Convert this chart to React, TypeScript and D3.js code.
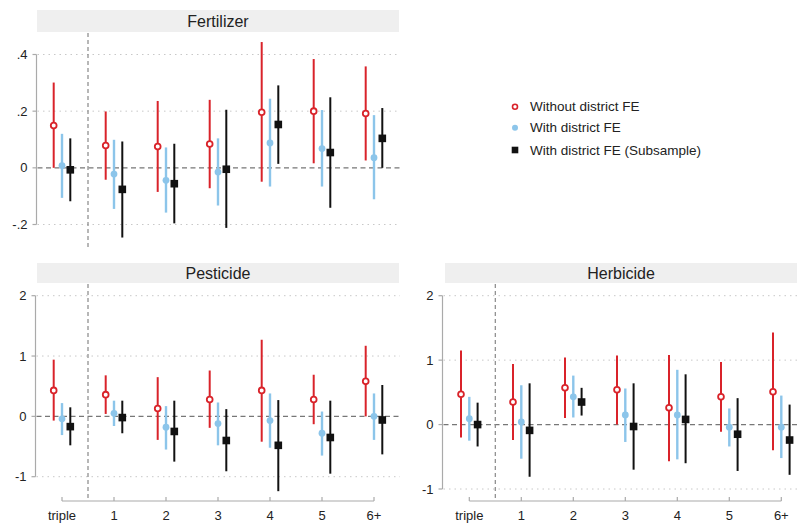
import React from "react";
import * as d3 from "d3";

const categories = ["triple", "1", "2", "3", "4", "5", "6+"];
const seriesNames = ["Without district FE", "With district FE", "With district FE (Subsample)"];

// [estimate, lower, upper] per category
const fertRed = [[0.149, 0.0, 0.301], [0.079, -0.042, 0.199], [0.075, -0.085, 0.236], [0.084, -0.072, 0.24], [0.196, -0.049, 0.444], [0.2, 0.016, 0.384], [0.192, 0.026, 0.358]];
const fertBlue = [[0.008, -0.106, 0.12], [-0.022, -0.145, 0.099], [-0.044, -0.158, 0.072], [-0.015, -0.133, 0.104], [0.088, -0.066, 0.244], [0.068, -0.066, 0.204], [0.036, -0.111, 0.186]];
const fertBlack = [[-0.007, -0.118, 0.104], [-0.076, -0.246, 0.093], [-0.056, -0.196, 0.085], [-0.005, -0.212, 0.205], [0.153, 0.014, 0.291], [0.054, -0.141, 0.249], [0.104, 0.0, 0.211]];

const pestRed = [[0.43, -0.07, 0.94], [0.36, 0.04, 0.68], [0.13, -0.39, 0.65], [0.28, -0.19, 0.76], [0.43, -0.42, 1.27], [0.28, -0.13, 0.69], [0.58, 0.0, 1.17]];
const pestBlue = [[-0.04, -0.31, 0.22], [0.05, -0.16, 0.26], [-0.18, -0.55, 0.17], [-0.12, -0.48, 0.23], [-0.07, -0.52, 0.38], [-0.28, -0.65, 0.08], [0.0, -0.39, 0.38]];
const pestBlack = [[-0.17, -0.48, 0.15], [-0.02, -0.28, 0.26], [-0.25, -0.75, 0.26], [-0.4, -0.91, 0.12], [-0.48, -1.24, 0.27], [-0.35, -0.95, 0.26], [-0.06, -0.63, 0.52]];

const herbRed = [[0.47, -0.2, 1.15], [0.35, -0.24, 0.94], [0.57, 0.1, 1.04], [0.54, 0.0, 1.07], [0.26, -0.57, 1.08], [0.43, -0.11, 0.97], [0.51, -0.4, 1.43]];
const herbBlue = [[0.09, -0.25, 0.43], [0.04, -0.53, 0.61], [0.43, 0.11, 0.76], [0.15, -0.27, 0.56], [0.15, -0.54, 0.85], [-0.04, -0.34, 0.25], [-0.04, -0.52, 0.45]];
const herbBlack = [[0.0, -0.34, 0.34], [-0.09, -0.81, 0.64], [0.35, 0.14, 0.57], [-0.03, -0.7, 0.64], [0.08, -0.6, 0.78], [-0.15, -0.72, 0.41], [-0.24, -0.78, 0.31]];

const fertTicks = [-0.2, 0, 0.2, 0.4];
const fertTickLabels = ["-.2", "0", ".2", ".4"];
const countTicks = [-1, 0, 1, 2];
const countTickLabels = ["-1", "0", "1", "2"];

const RED = "#d9232a";
const BLUE = "#8cc5ea";
const BLACK = "#111111";
const FONT = "'Liberation Sans', Arial, Helvetica, sans-serif";

type PanelCfg = {
  title: string;
  series: number[][][];
  stripX: [number, number];
  stripY: [number, number];
  axisX: number;
  yDomain: [number, number];
  yRange: [number, number];
  ticks: number[];
  tickLabels: string[];
  xRange: [number, number];
  plotBottom: number;
  showX: boolean;
};

const panels: PanelCfg[] = [
  {
    title: "Fertilizer",
    series: [fertRed, fertBlue, fertBlack],
    stripX: [37, 399], stripY: [10, 32], axisX: 36.5,
    yDomain: [-0.2, 0.4], yRange: [224.5, 54.5],
    ticks: fertTicks, tickLabels: fertTickLabels,
    xRange: [62, 374], plotBottom: 248, showX: false,
  },
  {
    title: "Pesticide",
    series: [pestRed, pestBlue, pestBlack],
    stripX: [37, 399], stripY: [263, 283], axisX: 35.5,
    yDomain: [-1, 2], yRange: [476.7, 295.7],
    ticks: countTicks, tickLabels: countTickLabels,
    xRange: [62, 374], plotBottom: 501, showX: true,
  },
  {
    title: "Herbicide",
    series: [herbRed, herbBlue, herbBlack],
    stripX: [445, 797], stripY: [263, 283], axisX: 442.5,
    yDomain: [-1, 2], yRange: [489, 295.7],
    ticks: countTicks, tickLabels: countTickLabels,
    xRange: [469.3, 781.3], plotBottom: 501, showX: true,
  },
];

const OFFSET = 8.3;
const colors = [RED, BLUE, BLACK];

function Marker({ kind, x, y }: { kind: number; x: number; y: number }) {
  if (kind === 0) return <circle cx={x} cy={y} r={2.9} fill="white" stroke={RED} strokeWidth={1.8} />;
  if (kind === 1) return <circle cx={x} cy={y} r={3.4} fill={BLUE} />;
  return <rect x={x - 3.8} y={y - 3.8} width={7.6} height={7.6} fill={BLACK} />;
}

function Panel({ p }: { p: PanelCfg }) {
  const y = d3.scaleLinear().domain(p.yDomain).range(p.yRange);
  const x = d3.scalePoint<string>().domain(categories).range(p.xRange);
  const step = x.step();
  const vlineX = (x("triple") as number) + step / 2;
  const gridEnd = p.stripX[1] + 1;
  const plotTop = p.stripY[1] + 1;
  return (
    <g>
      <rect x={p.stripX[0]} y={p.stripY[0]} width={p.stripX[1] - p.stripX[0]} height={p.stripY[1] - p.stripY[0]} fill="#efefef" />
      <text x={(p.stripX[0] + p.stripX[1]) / 2} y={(p.stripY[0] + p.stripY[1]) / 2 + 5.5} textAnchor="middle" fontSize={16} fill="#222" fontFamily={FONT}>{p.title}</text>
      {p.ticks.filter((t) => t !== 0).map((t) => (
        <line key={"g" + t} x1={p.axisX + 1} x2={gridEnd} y1={y(t)} y2={y(t)} stroke="#c8c8c8" strokeWidth={1} strokeDasharray="1.5,4" />
      ))}
      <line x1={p.axisX + 1} x2={gridEnd} y1={y(0)} y2={y(0)} stroke="#777" strokeWidth={1.2} strokeDasharray="5,3.5" />
      <line x1={vlineX} x2={vlineX} y1={plotTop} y2={p.plotBottom} stroke="#888" strokeWidth={1.2} strokeDasharray="4,3" />
      <line x1={p.axisX} x2={p.axisX} y1={y(p.ticks[0])} y2={y(p.ticks[p.ticks.length - 1])} stroke="#aaa" strokeWidth={1.2} />
      {p.ticks.map((t, i) => (
        <g key={"t" + t}>
          <line x1={p.axisX - 4} x2={p.axisX} y1={y(t)} y2={y(t)} stroke="#aaa" strokeWidth={1.2} />
          <text x={p.axisX - 9} y={y(t) + 4.5} textAnchor="end" fontSize={13} fill="#222" fontFamily={FONT}>{p.tickLabels[i]}</text>
        </g>
      ))}
      {p.showX && (
        <g>
          <line x1={p.xRange[0]} x2={p.xRange[1]} y1={p.plotBottom} y2={p.plotBottom} stroke="#aaa" strokeWidth={1.2} />
          {categories.map((c) => (
            <g key={"x" + c}>
              <line x1={x(c)} x2={x(c)} y1={p.plotBottom} y2={p.plotBottom - 4} stroke="#aaa" strokeWidth={1.2} />
              <text x={x(c)} y={p.plotBottom + 19} textAnchor="middle" fontSize={13} fill="#222" fontFamily={FONT}>{c}</text>
            </g>
          ))}
        </g>
      )}
      {p.series.map((s, si) => (
        <g key={"s" + si}>
          {s.map((d, ci) => {
            const cx = (x(categories[ci]) as number) + (si - 1) * OFFSET;
            return (
              <g key={ci}>
                <line x1={cx} x2={cx} y1={y(d[1])} y2={y(d[2])} stroke={colors[si]} strokeWidth={si === 1 ? 2.4 : 2} />
                <Marker kind={si} x={cx} y={y(d[0])} />
              </g>
            );
          })}
        </g>
      ))}
    </g>
  );
}

export default function App() {
  const legendY = [106.7, 127.7, 150];
  return (
    <svg width={797} height={524} style={{ position: "absolute", left: 0, top: 0, background: "white" }}>
      <rect width={797} height={524} fill="white" />
      {panels.map((p) => <Panel key={p.title} p={p} />)}
      <g>
        {seriesNames.map((n, i) => (
          <g key={n}>
            {i === 0 && <circle cx={515} cy={legendY[i]} r={2.5} fill="white" stroke={RED} strokeWidth={1.6} />}
            {i === 1 && <circle cx={515} cy={legendY[i]} r={3} fill={BLUE} />}
            {i === 2 && <rect x={511.7} y={legendY[i] - 3.3} width={6.6} height={6.6} fill={BLACK} />}
            <text x={530} y={legendY[i] + 4.5} fontSize={13.5} fill="#222" fontFamily={FONT}>{n}</text>
          </g>
        ))}
      </g>
    </svg>
  );
}
